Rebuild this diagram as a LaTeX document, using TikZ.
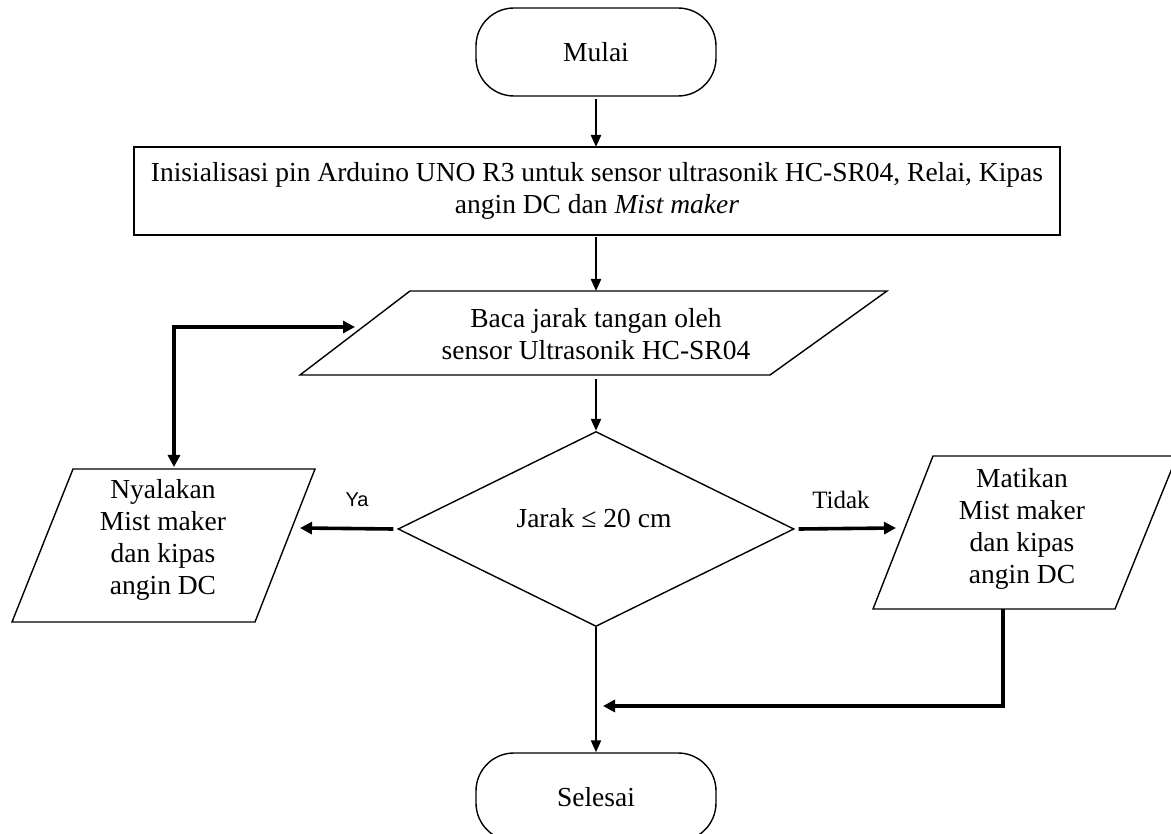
\documentclass[tikz,border=0pt]{standalone}
\usepackage{fontspec}
\setmainfont{Liberation Serif}
\newfontfamily\yafont{Liberation Sans}
\usetikzlibrary{arrows.meta,shapes.geometric}
\begin{document}
\begin{tikzpicture}[x=1pt,y=-1pt,
  txt/.style={font=\fontsize{27.5}{32}\selectfont, align=center, inner sep=0pt},
  shp/.style={draw, line width=1.4pt, line join=miter},
  term/.style={shp, rounded corners=38pt, minimum width=240pt, minimum height=88pt},
  thinarr/.style={line width=2.2pt, -{Triangle[length=12pt,width=10pt]}},
  thickarr/.style={line width=3.6pt, -{Triangle[length=12pt,width=12pt]}},
  dblarr/.style={line width=3.6pt, {Triangle[length=12pt,width=12pt]}-{Triangle[length=12pt,width=12pt]}},
]
\useasboundingbox (0,0) rectangle (1171,834);
\clip (0,0) rectangle (1171,834);

% start
\node[term, txt] (mulai) at (596,52) {Mulai};

% init
\node[shp, txt, minimum width=926pt, minimum height=88pt] (init) at (597,191)
  {Inisialisasi pin Arduino UNO R3 untuk sensor ultrasonik HC-SR04, Relai, Kipas\\ angin DC dan \textit{Mist maker}};
\coordinate (initTop) at (596,147);
\coordinate (initBot) at (596,237);

% input parallelogram
\draw[shp] (410,291) -- (887,291) -- (770,375) -- (300,375) -- cycle;
\node[txt] (baca) at (596,334) {Baca jarak tangan oleh\\sensor Ultrasonik HC-SR04};
\coordinate (bacaTop) at (596,291);
\coordinate (bacaBot) at (596,379);
\coordinate (bacaIn) at (355,327);

% decision
\node[shp, diamond, aspect=2, inner sep=0pt, minimum width=396pt, minimum height=195pt] (dec) at (596,529) {};
\node[txt] (dect) at (594,518) {Jarak ≤ 20 cm};

% left output
\draw[shp] (73,469) -- (315,469) -- (255,622) -- (12,622) -- cycle;
\node[txt] (nyala) at (163,540) {Nyalakan\\Mist maker\\dan kipas\\angin DC};
\coordinate (nyTop) at (174,467);
\coordinate (nyR) at (300,528);
\coordinate (loopC) at (174,327);

% right output
\draw[shp] (933,456) -- (1177,456) -- (1115,609) -- (873,609) -- cycle;
\node[txt] (mati) at (1022,529) {Matikan\\Mist maker\\dan kipas\\angin DC};
\coordinate (maL) at (896,528);
\coordinate (maBot) at (1003,609);
\coordinate (retC) at (1003,706);
\coordinate (retT) at (603,706);

% end
\node[term, txt] (selesai) at (596,797) {Selesai};

% connectors
\draw[thinarr] (mulai.south) ++(0,2) -- (initTop);
\draw[thinarr] (initBot) -- (bacaTop);
\draw[thinarr] (bacaBot) -- (dec.north);
\draw[thinarr] (dec.south) -- (selesai.north);
\draw[thickarr] (dec.west) ++(-4,0) -- (nyR);
\draw[thickarr] (dec.east) ++(4,0) -- (maL);
\draw[dblarr] (nyTop) -- (loopC) -- (bacaIn);
\draw[thickarr] (maBot) -- (retC) -- (retT);

% labels
\node[font=\yafont\fontsize{20}{24}\selectfont] (ya) at (357,500) {Ya};
\node[font=\fontsize{25}{29}\selectfont] (tidak) at (841,500) {Tidak};
\end{tikzpicture}
\end{document}
